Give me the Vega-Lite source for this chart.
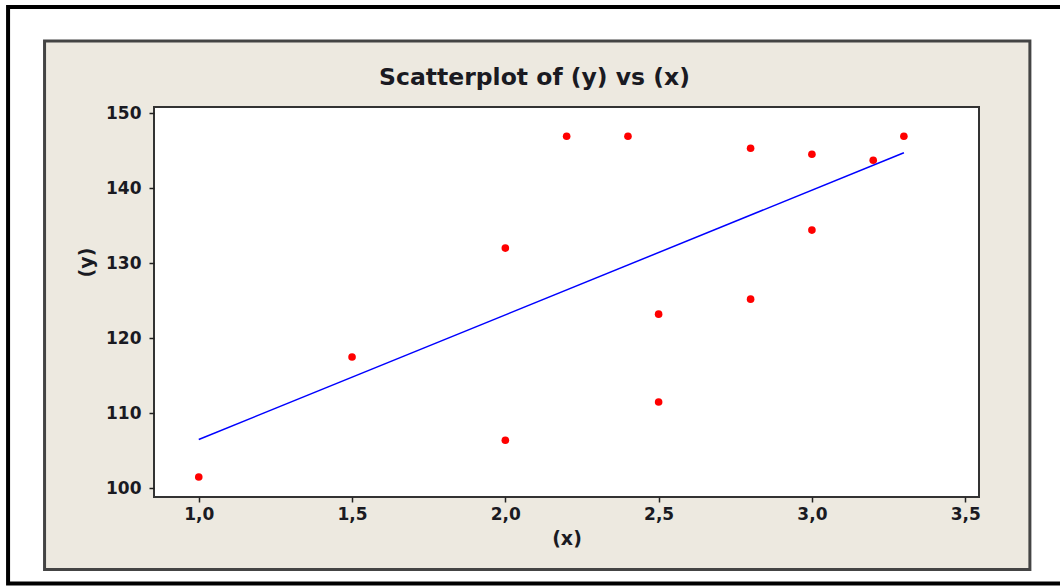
{
  "$schema": "https://vega.github.io/schema/vega-lite/v6.json",
  "width": 825,
  "height": 390,
  "autosize": {"type": "none"},
  "padding": {"left": 154, "top": 107, "right": 81, "bottom": 89},
  "background": "white",
  "config": {
    "view": {"stroke": null},
    "font": "DejaVu Sans"
  },
  "title": {
    "text": "Scatterplot of (y) vs (x)",
    "font": "DejaVu Sans",
    "fontSize": 23.5,
    "fontWeight": "bold",
    "color": "#1a1a22",
    "anchor": "middle",
    "frame": "group",
    "baseline": "alphabetic",
    "dx": -32,
    "dy": 103,
    "offset": 0,
    "zindex": 2
  },
  "datasets": {
    "points": [
      {"x": 1.0, "y": 101.5},
      {"x": 1.5, "y": 117.5},
      {"x": 2.0, "y": 132.0},
      {"x": 2.0, "y": 106.4},
      {"x": 2.2, "y": 146.9},
      {"x": 2.4, "y": 146.9},
      {"x": 2.5, "y": 123.2},
      {"x": 2.5, "y": 111.5},
      {"x": 2.8, "y": 145.3},
      {"x": 2.8, "y": 125.2},
      {"x": 3.0, "y": 144.5},
      {"x": 3.0, "y": 134.4},
      {"x": 3.2, "y": 143.7},
      {"x": 3.3, "y": 146.9}
    ],
    "fit": [
      {"x": 1.0, "y": 106.5},
      {"x": 3.3, "y": 144.7}
    ]
  },
  "layer": [
    {
      "data": {"values": [{}]},
      "mark": {"type": "rect", "fill": "white", "stroke": "black", "strokeWidth": 4, "clip": false},
      "encoding": {
        "x": {
          "datum": 0.378,
          "type": "quantitative",
          "scale": {"domain": [0.854, 3.545], "nice": false, "zero": false},
          "axis": {
            "zindex": 2,
            "values": [1, 1.5, 2, 2.5, 3, 3.5],
            "labelExpr": "replace(format(datum.value, '.1f'), '.', ',')",
            "title": "(x)",
            "domain": false,
            "grid": false,
            "tickColor": "#222222",
            "tickWidth": 1.5,
            "tickSize": 5,
            "labelFont": "DejaVu Sans",
            "labelFontSize": 17,
            "labelFontWeight": "bold",
            "labelColor": "#1a1a22",
            "labelPadding": 4,
            "titleFont": "DejaVu Sans",
            "titleFontSize": 19,
            "titleFontWeight": "bold",
            "titleColor": "#1a1a22",
            "titlePadding": 7
          }
        },
        "x2": {"datum": 3.85},
        "y": {
          "datum": 164.12,
          "type": "quantitative",
          "scale": {"domain": [98.84, 150.8], "nice": false, "zero": false},
          "axis": {
            "zindex": 2,
            "values": [100, 110, 120, 130, 140, 150],
            "title": "(y)",
            "domain": false,
            "grid": false,
            "tickColor": "#222222",
            "tickWidth": 1.5,
            "tickSize": 5,
            "labelFont": "DejaVu Sans",
            "labelFontSize": 17,
            "labelFontWeight": "bold",
            "labelColor": "#1a1a22",
            "labelPadding": 8,
            "titleFont": "DejaVu Sans",
            "titleFontSize": 19,
            "titleFontWeight": "bold",
            "titleColor": "#1a1a22",
            "titlePadding": 9,
            "titleY": 155
          }
        },
        "y2": {"datum": 87.32}
      }
    },
    {
      "data": {"values": [{}]},
      "mark": {"type": "rect", "fill": "#EDE9E0", "stroke": "#444444", "strokeWidth": 3, "clip": false},
      "encoding": {
        "x": {"datum": 0.497, "type": "quantitative"},
        "x2": {"datum": 3.711},
        "y": {"datum": 159.6, "type": "quantitative"},
        "y2": {"datum": 89.18}
      }
    },
    {
      "data": {"values": [{}]},
      "mark": {"type": "rect", "fill": "white", "stroke": "#333333", "strokeWidth": 2, "clip": false},
      "encoding": {
        "x": {"datum": 0.854, "type": "quantitative"},
        "x2": {"datum": 3.545},
        "y": {"datum": 150.8, "type": "quantitative"},
        "y2": {"datum": 98.84}
      }
    },
    {
      "data": {"name": "points"},
      "mark": {"type": "circle", "color": "#FF0000", "opacity": 1, "size": 58},
      "encoding": {
        "x": {"field": "x", "type": "quantitative"},
        "y": {"field": "y", "type": "quantitative"}
      }
    },
    {
      "data": {"name": "fit"},
      "mark": {"type": "line", "color": "#0000FF", "strokeWidth": 1.5},
      "encoding": {
        "x": {"field": "x", "type": "quantitative"},
        "y": {"field": "y", "type": "quantitative"}
      }
    }
  ]
}
